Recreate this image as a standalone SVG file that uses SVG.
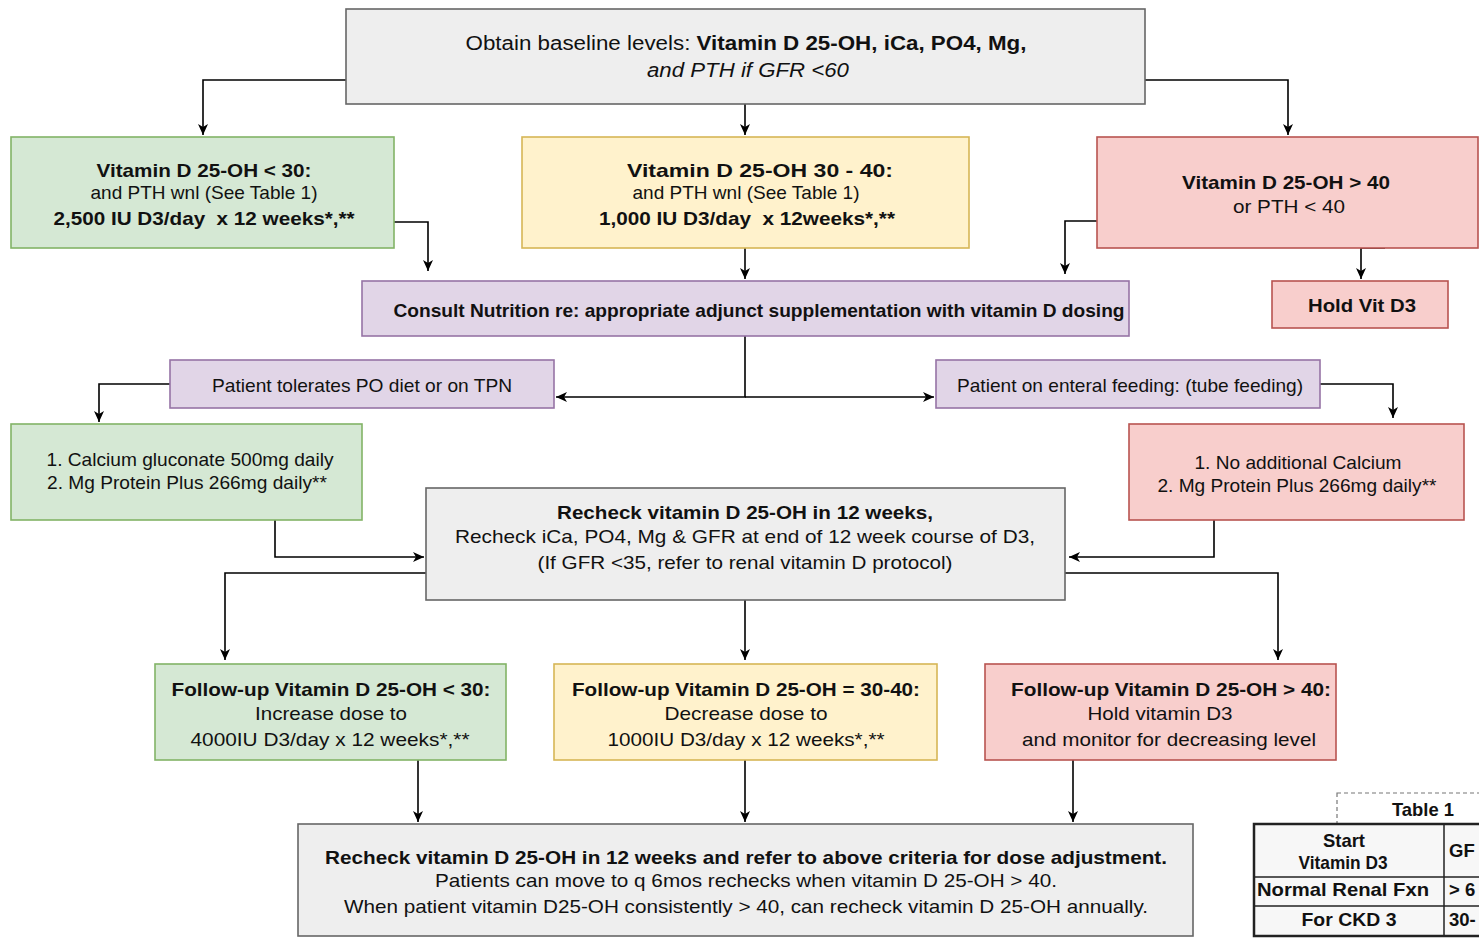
<svg xmlns="http://www.w3.org/2000/svg" width="1479" height="940" viewBox="0 0 1479 940">
<style>
text{font-family:"Liberation Sans",Arial,Helvetica,sans-serif;font-size:19px;fill:#111;text-anchor:middle}
.b{font-weight:bold}
.i{font-style:italic}
.top{font-size:20px}
.t{font-size:18.5px}
.gray{fill:#eeeeee;stroke:#666666;stroke-width:1.6}
.green{fill:#d5e8d4;stroke:#82b366;stroke-width:1.6}
.yellow{fill:#fff2cc;stroke:#d6b656;stroke-width:1.6}
.red{fill:#f8cecc;stroke:#b85450;stroke-width:1.6}
.purple{fill:#e1d5e7;stroke:#9673a6;stroke-width:1.6}
.conn path{fill:none;stroke:#000;stroke-width:1.6;marker-end:url(#arr)}
.tbl{fill:#f7f7f7;stroke:#222;stroke-width:2.5}
.tl{stroke:#222;stroke-width:1.5}
</style>
<defs>
<marker id="arr" markerUnits="userSpaceOnUse" markerWidth="12" markerHeight="10" refX="11" refY="5" orient="auto">
<path d="M0,0 L11,5 L0,10 L3,5 z" fill="#000"/>
</marker>
</defs>
<rect width="1479" height="940" fill="#ffffff"/>

<g id="connectors" class="conn">
<path d="M346,80 H203 V135"/>
<path d="M745,104 V135"/>
<path d="M1145,80 H1288 V135"/>
<path d="M394,222 H428 V271"/>
<path d="M745,248 V279"/>
<path d="M1097,221 H1065 V274"/>
<path d="M1385,248 H1361 V279"/>
<path d="M745,336 V397 H556"/>
<path d="M745,397 H934"/>
<path d="M170,384 H99 V422"/>
<path d="M1320,384 H1393 V418"/>
<path d="M275,520 V557 H424"/>
<path d="M1214,520 V557 H1069"/>
<path d="M426,573 H225 V660"/>
<path d="M745,600 V660"/>
<path d="M1065,573 H1278 V660"/>
<path d="M418,760 V822"/>
<path d="M745,760 V822"/>
<path d="M1073,760 V822"/>
</g>

<g id="baseline">
<rect class="gray" x="346" y="9" width="799" height="95"/>
<text class="top" x="746" y="50" textLength="561" lengthAdjust="spacingAndGlyphs">Obtain baseline levels: <tspan class="b">Vitamin D 25-OH, iCa, PO4, Mg,</tspan></text>
<text class="top i" x="748" y="77" textLength="202" lengthAdjust="spacingAndGlyphs">and PTH if GFR &lt;60</text>
</g>

<g id="vitd-lt30">
<rect class="green" x="11" y="137" width="383" height="111"/>
<text class="b" x="204" y="177" textLength="215" lengthAdjust="spacingAndGlyphs">Vitamin D 25-OH &lt; 30:</text>
<text x="204" y="199" textLength="227" lengthAdjust="spacingAndGlyphs">and PTH wnl (See Table 1)</text>
<text class="b" x="204" y="225" textLength="301" lengthAdjust="spacingAndGlyphs" xml:space="preserve">2,500 IU D3/day  x 12 weeks*,**</text>
</g>

<g id="vitd-30-40">
<rect class="yellow" x="522" y="137" width="447" height="111"/>
<text class="b" x="760" y="177" textLength="266" lengthAdjust="spacingAndGlyphs">Vitamin D 25-OH 30 - 40:</text>
<text x="746" y="199" textLength="227" lengthAdjust="spacingAndGlyphs">and PTH wnl (See Table 1)</text>
<text class="b" x="747" y="225" textLength="296" lengthAdjust="spacingAndGlyphs" xml:space="preserve">1,000 IU D3/day  x 12weeks*,**</text>
</g>

<g id="vitd-gt40">
<rect class="red" x="1097" y="137" width="381" height="111"/>
<text class="b" x="1286" y="189" textLength="208" lengthAdjust="spacingAndGlyphs">Vitamin D 25-OH &gt; 40</text>
<text x="1289" y="213" textLength="112" lengthAdjust="spacingAndGlyphs">or PTH &lt; 40</text>
</g>

<g id="consult">
<rect class="purple" x="362" y="281" width="767" height="55"/>
<text class="b" x="759" y="317" textLength="731" lengthAdjust="spacingAndGlyphs">Consult Nutrition re: appropriate adjunct supplementation with vitamin D dosing</text>
</g>

<g id="hold">
<rect class="red" x="1272" y="281" width="176" height="47"/>
<text class="b" x="1362" y="312" textLength="108" lengthAdjust="spacingAndGlyphs">Hold Vit D3</text>
</g>

<g id="po-diet">
<rect class="purple" x="170" y="360" width="384" height="48"/>
<text x="362" y="392" textLength="300" lengthAdjust="spacingAndGlyphs">Patient tolerates PO diet or on TPN</text>
</g>

<g id="enteral">
<rect class="purple" x="936" y="360" width="384" height="48"/>
<text x="1130" y="392" textLength="346" lengthAdjust="spacingAndGlyphs">Patient on enteral feeding: (tube feeding)</text>
</g>

<g id="calcium">
<rect class="green" x="11" y="424" width="351" height="96"/>
<text x="190" y="466" textLength="287" lengthAdjust="spacingAndGlyphs">1. Calcium gluconate 500mg daily</text>
<text x="187" y="489" textLength="280" lengthAdjust="spacingAndGlyphs">2. Mg Protein Plus 266mg daily**</text>
</g>

<g id="no-calcium">
<rect class="red" x="1129" y="424" width="335" height="96"/>
<text x="1298" y="469" textLength="207" lengthAdjust="spacingAndGlyphs">1. No additional Calcium</text>
<text x="1297" y="492" textLength="279" lengthAdjust="spacingAndGlyphs">2. Mg Protein Plus 266mg daily**</text>
</g>

<g id="recheck">
<rect class="gray" x="426" y="488" width="639" height="112"/>
<text class="b" x="745" y="519" textLength="376" lengthAdjust="spacingAndGlyphs">Recheck vitamin D 25-OH in 12 weeks,</text>
<text x="745" y="543" textLength="580" lengthAdjust="spacingAndGlyphs">Recheck iCa, PO4, Mg &amp; GFR at end of 12 week course of D3,</text>
<text x="745" y="569" textLength="415" lengthAdjust="spacingAndGlyphs">(If GFR &lt;35, refer to renal vitamin D protocol)</text>
</g>

<g id="fu-lt30">
<rect class="green" x="155" y="664" width="351" height="96"/>
<text class="b" x="331" y="696" textLength="319" lengthAdjust="spacingAndGlyphs">Follow-up Vitamin D 25-OH &lt; 30:</text>
<text x="331" y="720" textLength="152" lengthAdjust="spacingAndGlyphs">Increase dose to</text>
<text x="330" y="746" textLength="279" lengthAdjust="spacingAndGlyphs">4000IU D3/day x 12 weeks*,**</text>
</g>

<g id="fu-30-40">
<rect class="yellow" x="554" y="664" width="383" height="96"/>
<text class="b" x="746" y="696" textLength="348" lengthAdjust="spacingAndGlyphs">Follow-up Vitamin D 25-OH = 30-40:</text>
<text x="746" y="720" textLength="163" lengthAdjust="spacingAndGlyphs">Decrease dose to</text>
<text x="746" y="746" textLength="277" lengthAdjust="spacingAndGlyphs">1000IU D3/day x 12 weeks*,**</text>
</g>

<g id="fu-gt40">
<rect class="red" x="985" y="664" width="351" height="96"/>
<text class="b" x="1171" y="696" textLength="320" lengthAdjust="spacingAndGlyphs">Follow-up Vitamin D 25-OH &gt; 40:</text>
<text x="1160" y="720" textLength="145" lengthAdjust="spacingAndGlyphs">Hold vitamin D3</text>
<text x="1169" y="746" textLength="294" lengthAdjust="spacingAndGlyphs">and monitor for decreasing level</text>
</g>

<g id="final">
<rect class="gray" x="298" y="824" width="895" height="112"/>
<text class="b" x="746" y="864" textLength="842" lengthAdjust="spacingAndGlyphs">Recheck vitamin D 25-OH in 12 weeks and refer to above criteria for dose adjustment.</text>
<text x="746" y="887" textLength="622" lengthAdjust="spacingAndGlyphs">Patients can move to q 6mos rechecks when vitamin D 25-OH &gt; 40.</text>
<text x="746" y="913" textLength="804" lengthAdjust="spacingAndGlyphs">When patient vitamin D25-OH consistently &gt; 40, can recheck vitamin D 25-OH annually.</text>
</g>

<g id="table1">
<rect x="1337" y="793" width="160" height="31" fill="#ffffff" stroke="#777" stroke-width="1.2" stroke-dasharray="4 3"/>
<text class="b t" x="1423" y="816" textLength="62" lengthAdjust="spacingAndGlyphs">Table 1</text>
<rect class="tbl" x="1254" y="824" width="240" height="112"/>
<line class="tl" x1="1254" y1="877" x2="1479" y2="877"/>
<line class="tl" x1="1254" y1="906" x2="1479" y2="906"/>
<line class="tl" x1="1444" y1="824" x2="1444" y2="936"/>
<text class="b t" x="1344" y="847" textLength="42" lengthAdjust="spacingAndGlyphs">Start</text>
<text class="b t" x="1343" y="869" textLength="89" lengthAdjust="spacingAndGlyphs">Vitamin D3</text>
<text class="b t" x="1343" y="896" textLength="172" lengthAdjust="spacingAndGlyphs">Normal Renal Fxn</text>
<text class="b t" x="1349" y="926" textLength="95" lengthAdjust="spacingAndGlyphs">For CKD 3</text>
<text class="b t" x="1449" y="857" style="text-anchor:start">GF</text>
<text class="b t" x="1449" y="896" style="text-anchor:start">&gt; 6</text>
<text class="b t" x="1449" y="926" style="text-anchor:start">30-</text>
</g>
</svg>
